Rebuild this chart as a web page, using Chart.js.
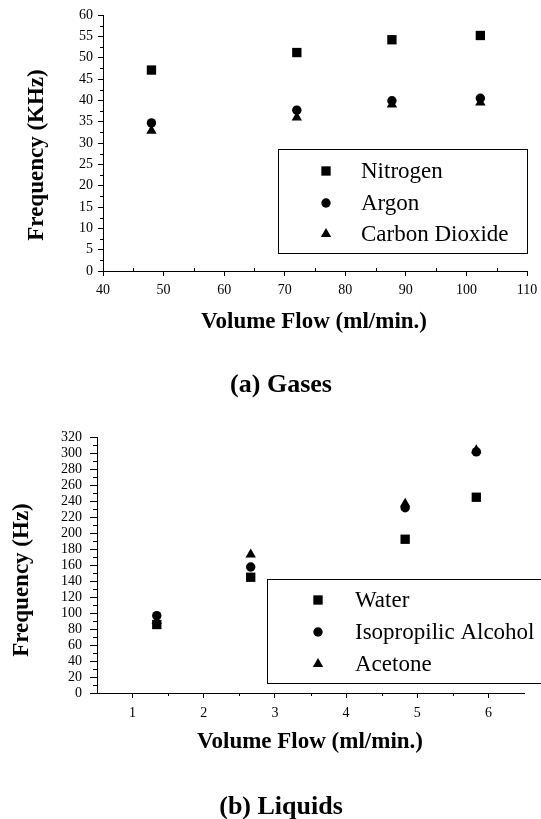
<!DOCTYPE html>
<html>
<head>
<meta charset="utf-8">
<script src="https://cdn.jsdelivr.net/npm/chart.js@4.4.1/dist/chart.umd.min.js"></script>
<style>
html, body { margin: 0; padding: 0; background: #fff; }
body { width: 541px; height: 819px; position: relative; overflow: hidden; }
.panel { position: absolute; left: 0; width: 541px; }
</style>
</head>
<body>
<div class="panel" style="top:0;height:410px"><canvas id="gases"></canvas></div>
<div class="panel" style="top:410px;height:409px"><canvas id="liquids"></canvas></div>
<script>
// (a) Gases
const gasFlow = [48, 72, 87.7, 102.3];
const nitrogen = [47.1, 51.2, 54.2, 55.2];
const argon = [34.7, 37.7, 39.9, 40.5];
const carbonDioxide = [32.9, 36.0, 39.0, 39.5];
const gasXTicks = [40, 50, 60, 70, 80, 90, 100, 110];
const gasYTicks = [0, 5, 10, 15, 20, 25, 30, 35, 40, 45, 50, 55, 60];

// (b) Liquids
const liquidFlow = [1.34, 2.66, 4.83, 5.83];
const water = [85.6, 144.7, 192.2, 244.7];
const alcohol = [96.7, 157.5, 231.5, 301.4];
const acetone = [90, 173, 236.5, 303.5];
const liquidXTicks = [1, 2, 3, 4, 5, 6];
const liquidYTicks = [0, 20, 40, 60, 80, 100, 120, 140, 160, 180, 200, 220, 240, 260, 280, 300, 320];

const serif = '"Liberation Serif", "Times New Roman", serif';
const marker = { rect: 6.6, circle: 4.7, triangle: 6 };

// puntos medios entre ticks (marcas menores)
function halves(ticks) {
    const out = [];
    for (let i = 0; i < ticks.length - 1; i++) out.push((ticks[i] + ticks[i + 1]) / 2);
    return out;
}

function pairs(xs, ys) {
    return xs.map((x, i) => ({ x: x, y: ys[i] }));
}

function series(label, xs, ys, style) {
    return {
        label: label,
        data: pairs(xs, ys),
        pointStyle: style,
        pointRadius: marker[style],
        pointBackgroundColor: '#000',
        pointBorderColor: '#000',
        pointBorderWidth: 0,
        showLine: false
    };
}

function drawMarker(ctx, style, x, y, r) {
    ctx.beginPath();
    if (style === 'rect') {
        const s = Math.SQRT1_2 * r;
        ctx.rect(x - s, y - s, 2 * s, 2 * s);
    } else if (style === 'circle') {
        ctx.arc(x, y, r, 0, Math.PI * 2);
    } else {
        ctx.moveTo(x, y - r);
        ctx.lineTo(x + r * Math.sin(Math.PI * 2 / 3), y + r / 2);
        ctx.lineTo(x - r * Math.sin(Math.PI * 2 / 3), y + r / 2);
        ctx.closePath();
    }
    ctx.fill();
}

// marcas menores, títulos, leyenda y pie de figura
const extras = {
    id: 'extras',
    afterDraw(chart, args, o) {
        const ctx = chart.ctx;
        const area = chart.chartArea;
        ctx.save();
        ctx.fillStyle = '#000';
        ctx.strokeStyle = '#000';
        ctx.lineWidth = 1;

        o.minor.forEach(m => {
            const sc = chart.scales[m.axis];
            m.values.forEach(v => {
                const p = Math.round(sc.getPixelForValue(v)) + 0.5;
                ctx.beginPath();
                if (m.axis === 'x') {
                    ctx.moveTo(p, area.bottom);
                    ctx.lineTo(p, area.bottom + m.len);
                } else {
                    ctx.moveTo(area.left, p);
                    ctx.lineTo(area.left + m.len, p);
                }
                ctx.stroke();
            });
        });

        ctx.font = 'bold 23px ' + serif;
        ctx.textAlign = 'center';
        ctx.textBaseline = 'alphabetic';
        ctx.fillText(o.xTitle, o.xTitleX, o.xTitleY);
        ctx.save();
        ctx.translate(o.yTitleX, o.yTitleY);
        ctx.rotate(-Math.PI / 2);
        ctx.fillText(o.yTitle, 0, 0);
        ctx.restore();

        ctx.font = 'bold 26px ' + serif;
        ctx.fillText(o.caption, o.captionX, o.captionY);

        const L = o.legend;
        ctx.strokeRect(L.x + 0.5, L.y + 0.5, L.w, L.h);
        ctx.font = '23px ' + serif;
        ctx.textAlign = 'left';
        ctx.textBaseline = 'middle';
        chart.data.datasets.forEach((ds, i) => {
            drawMarker(ctx, ds.pointStyle, L.mx, L.rows[i], ds.pointRadius);
            ctx.fillText(ds.label, L.tx, L.rows[i] + 1);
        });
        ctx.restore();
    }
};

function axis(min, max, ticks, fit, tickLen, pad) {
    return {
        type: 'linear',
        min: min,
        max: max,
        afterBuildTicks: s => { s.ticks = ticks.map(v => ({ value: v })); },
        afterFit: fit,
        grid: { drawOnChartArea: false, tickLength: tickLen, color: '#000', lineWidth: 1 },
        border: { color: '#000', width: 1 },
        ticks: { color: '#000', padding: pad, maxRotation: 0, autoSkip: false, font: { family: serif, size: 14 } }
    };
}

// tamaño fijo de los ejes para que el área del gráfico coincida
function fixX(h) {
    return s => { s.height = h; s.paddingLeft = 0; s.paddingRight = 0; };
}
function fixY(w) {
    return s => { s.width = w; s.paddingTop = 0; s.paddingBottom = 0; };
}

new Chart(document.getElementById('gases'), {
    type: 'scatter',
    data: {
        datasets: [
            series('Nitrogen', gasFlow, nitrogen, 'rect'),
            series('Argon', gasFlow, argon, 'circle'),
            series('Carbon Dioxide', gasFlow, carbonDioxide, 'triangle')
        ]
    },
    options: {
        responsive: true,
        maintainAspectRatio: false,
        animation: false,
        layout: { padding: { top: 15, right: 14, left: 0, bottom: 109 } },
        scales: {
            x: axis(40, 110, gasXTicks, fixX(30), 5, 6),
            y: axis(0, 60, gasYTicks, fixY(103), 5, 5)
        },
        plugins: {
            legend: { display: false },
            tooltip: { enabled: false },
            extras: {
                minor: [
                    { axis: 'x', values: halves(gasXTicks), len: -3 },
                    { axis: 'y', values: halves(gasYTicks), len: -3 }
                ],
                xTitle: 'Volume Flow (ml/min.)', xTitleX: 314, xTitleY: 328,
                yTitle: 'Frequency (KHz)', yTitleX: 43, yTitleY: 155,
                caption: '(a) Gases', captionX: 281, captionY: 392,
                legend: { x: 278, y: 149, w: 249, h: 104, mx: 326, tx: 361, rows: [171, 203, 234] }
            }
        }
    },
    plugins: [extras]
});

new Chart(document.getElementById('liquids'), {
    type: 'scatter',
    data: {
        datasets: [
            series('Water', liquidFlow, water, 'rect'),
            series('Isopropilic Alcohol', liquidFlow, alcohol, 'circle'),
            series('Acetone', liquidFlow, acetone, 'triangle')
        ]
    },
    options: {
        responsive: true,
        maintainAspectRatio: false,
        animation: false,
        layout: { padding: { top: 27, right: 17, left: 0, bottom: 96 } },
        scales: {
            x: axis(0.5, 6.5, liquidXTicks, fixX(30), 5, 7),
            y: axis(0, 320, liquidYTicks, fixY(97), 7, 8)
        },
        plugins: {
            legend: { display: false },
            tooltip: { enabled: false },
            extras: {
                minor: [
                    { axis: 'x', values: halves(liquidXTicks), len: 3 },
                    { axis: 'y', values: halves(liquidYTicks), len: -4 }
                ],
                xTitle: 'Volume Flow (ml/min.)', xTitleX: 310, xTitleY: 338,
                yTitle: 'Frequency (Hz)', yTitleX: 28, yTitleY: 170,
                caption: '(b) Liquids', captionX: 281, captionY: 404,
                legend: { x: 267, y: 169, w: 290, h: 104, mx: 318, tx: 355, rows: [190, 222, 254] }
            }
        }
    },
    plugins: [extras]
});
</script>
</body>
</html>
